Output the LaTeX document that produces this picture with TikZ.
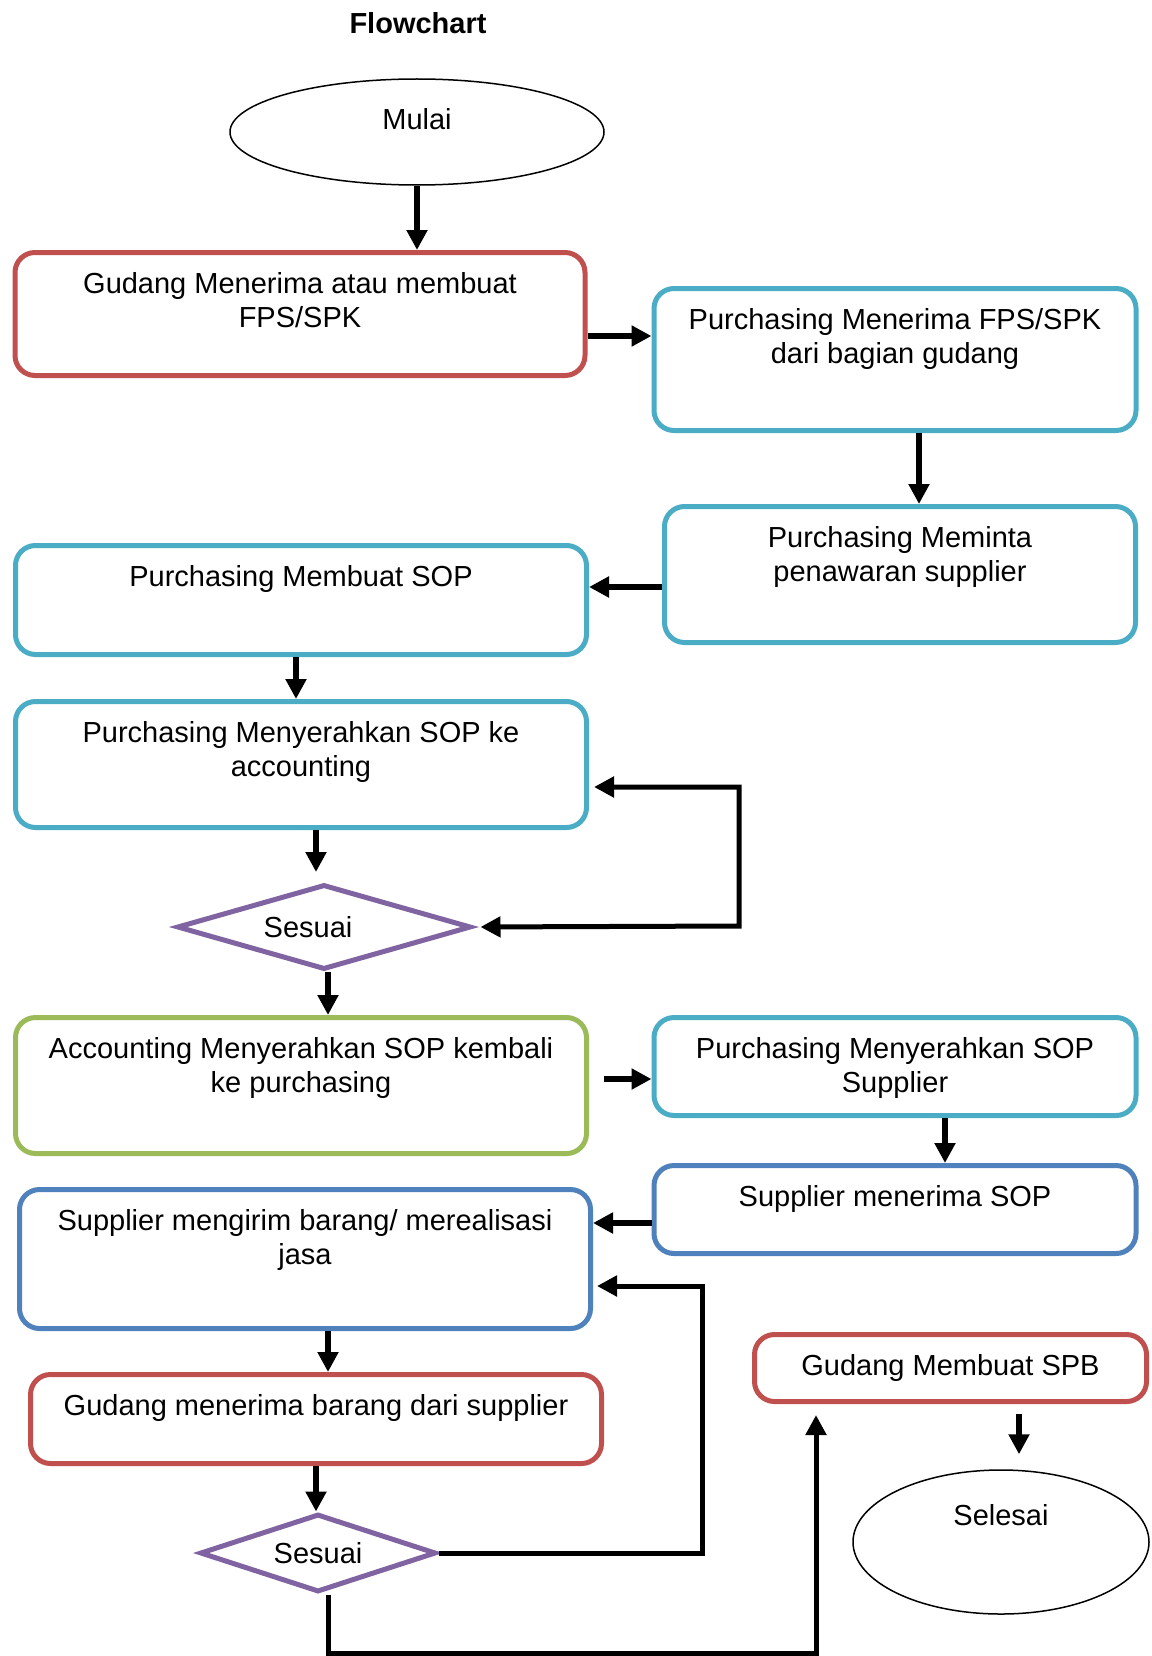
\documentclass[tikz,border=0pt]{standalone}
\usepackage{fontspec}
\setmainfont{Liberation Sans}
\usetikzlibrary{shapes.geometric,arrows.meta}
\definecolor{redline}{HTML}{C0504D}
\definecolor{cyanline}{HTML}{4BACC6}
\definecolor{greenline}{HTML}{9BBB59}
\definecolor{blueline}{HTML}{4F81BD}
\definecolor{purpleline}{HTML}{8064A2}
\tikzset{
  box/.style={shape=rectangle, draw, line width=5pt, rounded corners=20pt, inner sep=0pt},
  redbox/.style={box, draw=redline},
  cyanbox/.style={box, draw=cyanline},
  greenbox/.style={box, draw=greenline},
  bluebox/.style={box, draw=blueline},
  boxtext/.style={anchor=north, yshift=-22pt, inner sep=0pt, align=center},
  terminal/.style={shape=ellipse, draw, line width=1.5pt, inner sep=0pt},
  decision/.style={shape=diamond, draw=purpleline, line width=5pt, inner sep=0pt, shape aspect=3.5},
  arr/.style={->, line width=6pt},
  loop/.style={->, line width=5pt}
}
\begin{document}
\begin{tikzpicture}[x=1pt, y=-1pt, >={Triangle[length=20pt,width=20pt]}, font=\fontsize{29}{34}\selectfont]
\useasboundingbox (0,0) rectangle (1151,1656);
\node(title) at (418,23) {\bfseries Flowchart};
\node(mulai) at (417,132)[terminal, minimum width=374pt, minimum height=106pt, label={[yshift=13pt]center:Mulai}] {};
\node(gudang1) at (300,314)[redbox, minimum width=570pt, minimum height=123pt, label={[boxtext]north:{Gudang Menerima atau membuat\\FPS/SPK}}] {};
\node(terima) at (895,359.5)[cyanbox, minimum width=482pt, minimum height=142pt, label={[boxtext]north:{Purchasing Menerima FPS/SPK\\dari bagian gudang}}] {};
\node(minta) at (900,574.5)[cyanbox, minimum width=471pt, minimum height=136pt, label={[boxtext]north:{Purchasing Meminta\\penawaran supplier}}] {};
\node(buatsop) at (301,600)[cyanbox, minimum width=571pt, minimum height=109pt, label={[boxtext]north:{Purchasing Membuat SOP}}] {};
\node(serahacc) at (301,764.5)[cyanbox, minimum width=571pt, minimum height=126pt, label={[boxtext]north:{Purchasing Menyerahkan SOP ke\\accounting}}] {};
\node(sesuai1) at (324,927)[decision, minimum width=294pt, minimum height=85pt, label={[xshift=-16pt]center:Sesuai}] {};
\node(kembali) at (301,1085.5)[greenbox, minimum width=571pt, minimum height=136pt, label={[boxtext]north:{Accounting Menyerahkan SOP kembali\\ke purchasing}}] {};
\node(serahsup) at (895,1066.5)[cyanbox, minimum width=482pt, minimum height=98pt, label={[boxtext]north:{Purchasing Menyerahkan SOP\\Supplier}}] {};
\node(supterima) at (895,1209.5)[bluebox, minimum width=482pt, minimum height=88pt, label={[boxtext]north:{Supplier menerima SOP}}] {};
\node(kirim) at (305,1259)[bluebox, minimum width=571pt, minimum height=139pt, label={[boxtext]north:{Supplier mengirim barang/ merealisasi\\jasa}}] {};
\node(gudang2) at (316,1419)[redbox, minimum width=571pt, minimum height=89pt, label={[boxtext]north:{Gudang menerima barang dari supplier}}] {};
\node(sesuai2) at (318,1553)[decision, minimum width=236pt, minimum height=78pt, shape aspect=3] {Sesuai};
\node(spb) at (950.5,1368)[redbox, minimum width=392pt, minimum height=67pt, label={[boxtext]north:{Gudang Membuat SPB}}] {};
\node(selesai) at (1001,1542)[terminal, minimum width=296pt, minimum height=144pt, label={[yshift=27pt]center:Selesai}] {};


\path [arr]
  (mulai.south)               edge                                    (mulai.south |- gudang1.north)
  (gudang1.east |- 0,336)     edge                                    (terima.west |- 0,336)
  (terima.south -| 919,0)     edge                                    (minta.north -| 919,0)
  (minta.west |- 0,587)       edge                                    (buatsop.east |- 0,587)
  (buatsop.south -| 296,0)    edge                                    (serahacc.north -| 296,0)
  (serahacc.south -| 316,0)   edge [shorten >=10pt]                   (sesuai1.north -| 316,0)
  (sesuai1.south -| 328,0)    edge                                    (kembali.north -| 328,0)
  (kembali.east |- 0,1079)    edge [shorten <=15pt]                   (serahsup.west |- 0,1079)
  (serahsup.south -| 945,0)   edge                                    (supterima.north -| 945,0)
  (supterima.west |- 0,1223)  edge                                    (kirim.east |- 0,1223)
  (kirim.south -| 328,0)      edge                                    (gudang2.north -| 328,0)
  (gudang2.south -| 316,0)    edge                                    (sesuai2.north -| 316,0)
  (spb.south -| 1019,0)       edge [shorten <=10pt, shorten >=15pt]   (selesai.north -| 1019,0);

\draw [loop, <->, shorten <=5pt, shorten >=7pt] (serahacc.east |- 0,787) -| (739,926) -- (sesuai1.east);
\draw [loop, shorten >=4pt] (sesuai2.east) -| (702,1286) -- (kirim.east |- 0,1286);
\draw [loop, shorten >=11pt] (sesuai2.south -| 328,0) |- (816,1653) -- (spb.south -| 816,0);


\end{tikzpicture}
\end{document}
